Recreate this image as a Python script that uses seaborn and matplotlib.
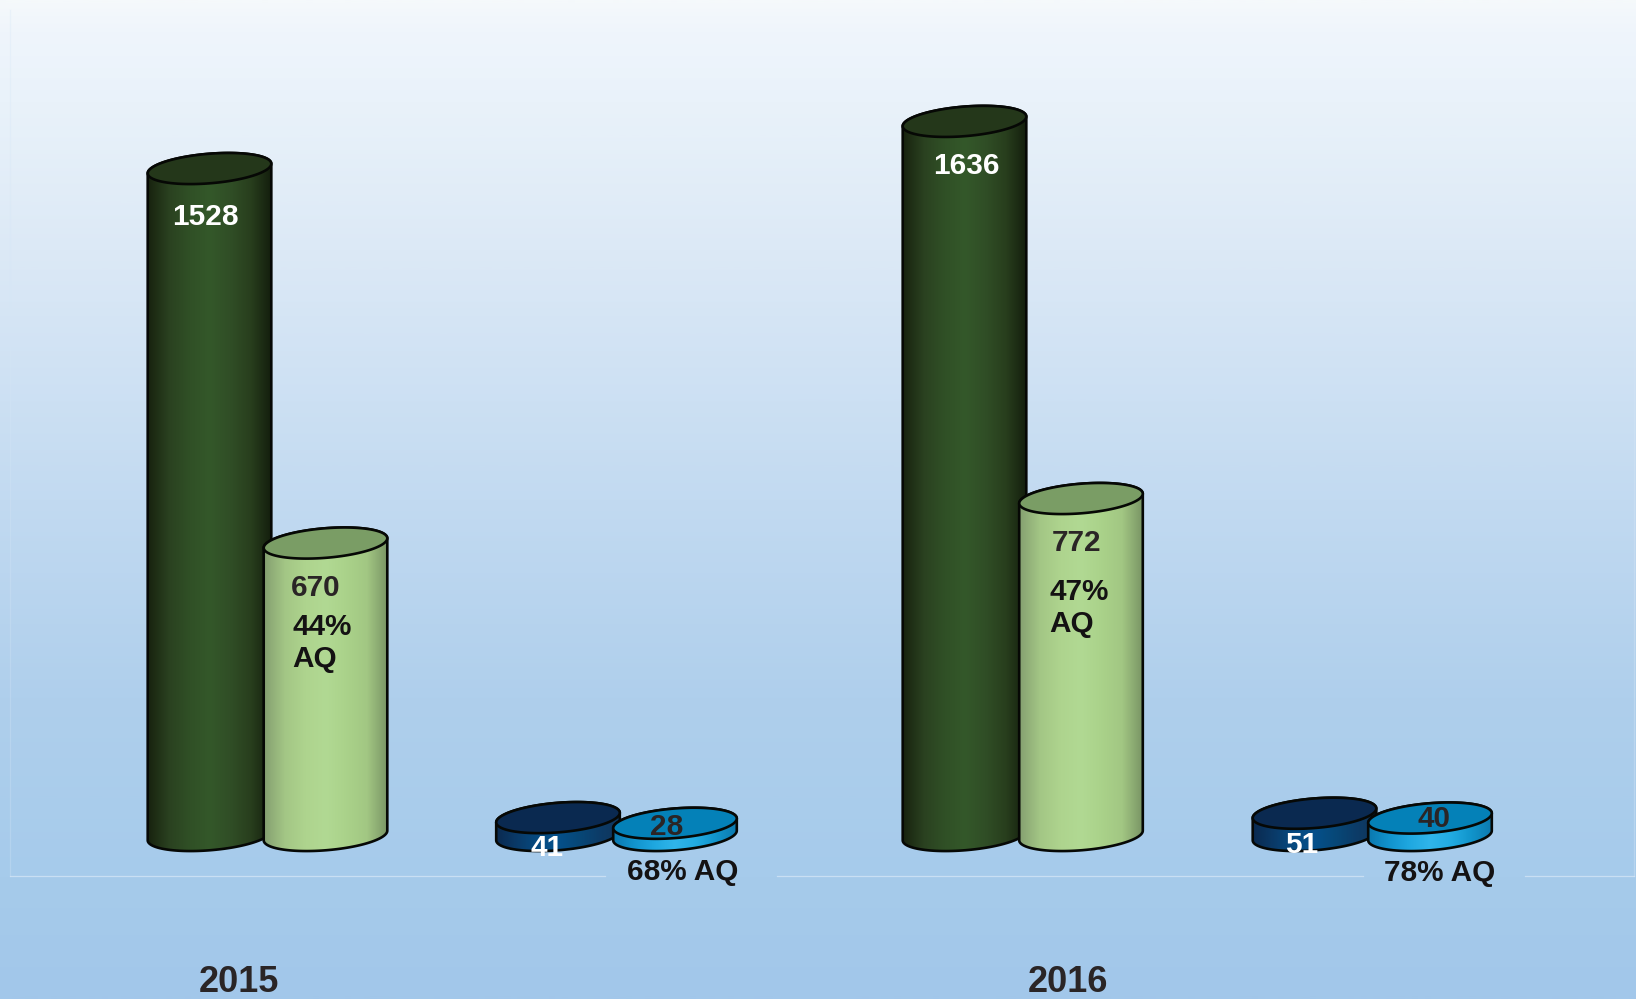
import matplotlib
matplotlib.use("Agg")
import matplotlib.pyplot as plt
from matplotlib.colors import LinearSegmentedColormap
from matplotlib.patches import Polygon
from matplotlib.transforms import Affine2D
import numpy as np
import pandas as pd
import seaborn as sns

# Chart data
years = ["2015", "2015", "2015", "2015", "2016", "2016", "2016", "2016"]
series = ["total", "total AQ", "small", "small AQ", "total", "total AQ", "small", "small AQ"]
counts = [1528, 670, 41, 28, 1636, 772, 51, 40]
percent_labels = ["44%\nAQ", "68% AQ", "47%\nAQ", "78% AQ"]
year_labels = ["2015", "2016"]

# Layout, in pixels of the 1636x999 picture
W, H = 1636, 999
BASE_Y = 835.5
PX_PER_UNIT = 0.4365
bar_x = [209.5, 325.5, 558, 675, 964.5, 1081, 1314.5, 1430]
RIM_H = 14.8
RIM_TILT = 4.8

side_colors = {
    "total": ["#18230f", "#2a4120", "#305026", "#34582a", "#304e26", "#283e1d", "#141e0d"],
    "total AQ": ["#85a071", "#a3c685", "#aed48e", "#b1d993", "#aad28a", "#a2c783", "#7a9565"],
    "small": ["#0a2a50", "#0a3a68", "#064a80", "#05508a", "#074878", "#0c3c68", "#10365c"],
    "small AQ": ["#0b78ae", "#1193cc", "#1fa8e0", "#30b5ea", "#22ace2", "#1195cc", "#0d7aaf"],
}
top_colors = {"total": "#24371a", "total AQ": "#7a9d65", "small": "#0a2950", "small AQ": "#0481b8"}
bg_stops = [(0.0, "#f5f9fb"), (0.03, "#eff5fc"), (0.10, "#e9f2fa"), (0.25, "#dce9f6"), (0.50, "#c2daf1"),
            (0.70, "#afcfec"), (0.88, "#a6cbeb"), (1.0, "#a2c7ea")]

df = pd.DataFrame({"year": years, "series": series, "count": counts, "x": bar_x})

fig = plt.figure(figsize=(W / 100, H / 100), dpi=100)
ax = fig.add_axes([0, 0, 1, 1])
ax.set_axis_off()

sns.barplot(data=df, x="x", y="count", hue="series", palette={s: side_colors[s][3] for s in side_colors},
            native_scale=True, dodge=False, width=1.07, legend=False, ax=ax)
ax.set_xlim(0, W)
ax.set_ylim((BASE_Y - H) / PX_PER_UNIT, BASE_Y / PX_PER_UNIT)
xlim, ylim = ax.get_xlim(), ax.get_ylim()

# Background
bg = LinearSegmentedColormap.from_list("bg", bg_stops)
ax.imshow(np.linspace(0, 1, 500).reshape(-1, 1), cmap=bg, aspect="auto", zorder=0,
          extent=(xlim[0], xlim[1], ylim[0], ylim[1]), origin="upper")

# pixel coordinates for the decoration and the text
px = Affine2D().scale(1, -1).translate(0, H)
for x0, x1, y0, y1, a in [(10, 605, 876, 876, 0.75), (777, 1363, 876, 876, 0.75), (1525, 1634, 876, 876, 0.75),
                          (10, 10, 10, 876, 0.3), (1634, 1634, 300, 876, 0.4)]:
    ax.plot([x0, x1], [y0, y1], color="#d5e6f6", lw=0.9, alpha=a, transform=px, zorder=1)


def rim(cx, half_w, value, t):
    # sheared ellipse, the rim of a cylinder
    x = cx + half_w * np.cos(t)
    y = value + (RIM_H * np.sin(t) + RIM_TILT * np.cos(t)) / PX_PER_UNIT
    return np.column_stack([x, y])


# Turn every seaborn bar into a cylinder
bars = sorted(ax.patches, key=lambda p: p.get_x())
for i, (bar, row) in enumerate(zip(bars, df.itertuples())):
    z = 2 + i
    cx = bar.get_x() + bar.get_width() / 2
    half_w = bar.get_width() / 2
    value = bar.get_height()
    lower = rim(cx, half_w, 0, np.linspace(np.pi, 2 * np.pi, 80))
    upper = rim(cx, half_w, value, np.linspace(0, np.pi, 80))
    side = Polygon(np.vstack([lower, upper]), closed=True, fc="none", ec="#060805", lw=1.9, zorder=z + 0.2)
    ax.add_patch(side)
    bar.set_zorder(z)
    bar.set_clip_path(side.get_path(), side.get_transform())
    grad = LinearSegmentedColormap.from_list("s" + str(i), side_colors[row.series])
    im = ax.imshow(np.linspace(0, 1, 200).reshape(1, -1), cmap=grad, aspect="auto", zorder=z + 0.1,
                   extent=(cx - half_w, cx + half_w, -60, value + 60))
    im.set_clip_path(side.get_path(), side.get_transform())
    top = rim(cx, half_w, value, np.linspace(0, 2 * np.pi, 160))
    ax.add_patch(Polygon(top, closed=True, fc=top_colors[row.series], ec="#060805", lw=1.9, zorder=z + 0.3))
ax.set_xlim(xlim)
ax.set_ylim(ylim)

# Text
DARK = "#2a2526"
BLACK = "#141213"
FONT = "Liberation Sans"
labels = [
    (205.7, 217, counts[0], "white"),
    (315.5, 588, counts[1], DARK),
    (547, 848, counts[2], "white"),
    (667, 827, counts[3], DARK),
    (966.7, 166, counts[4], "white"),
    (1076.5, 543, counts[5], DARK),
    (1302, 845, counts[6], "white"),
    (1434, 819, counts[7], DARK),
]
for x, y, val, col in labels:
    ax.text(x, y, str(val), color=col, fontsize=21.4, fontweight="bold", family=FONT, ha="center", va="center",
            transform=px, zorder=30)

for x, y, txt, ha in [(292.5, 643, percent_labels[0], "left"), (683, 872, percent_labels[1], "center"),
                      (1049, 608, percent_labels[2], "left"), (1440, 873, percent_labels[3], "center")]:
    ax.text(x, y, txt, color=BLACK, fontsize=21.4, fontweight="bold", family=FONT, ha=ha, va="center",
            linespacing=1.22, transform=px, zorder=30)

for x, y, txt in [(239, 983, year_labels[0]), (1067.5, 983, year_labels[1])]:
    ax.text(x, y, txt, color=DARK, fontsize=26, fontweight="bold", family=FONT, ha="center", va="center",
            transform=px, zorder=30)

fig.savefig("out.png", dpi=100)
